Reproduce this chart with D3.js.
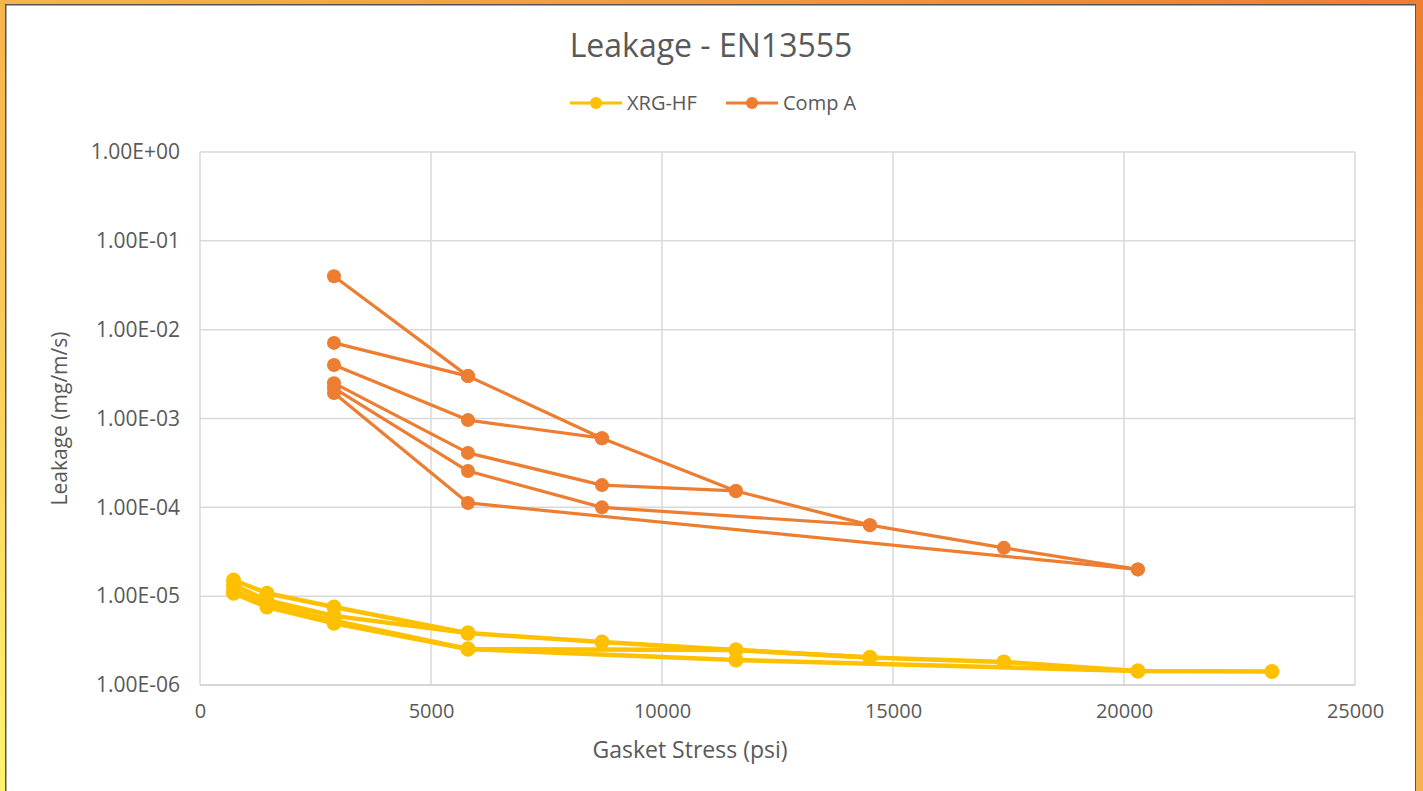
<!DOCTYPE html>
<html>
<head>
<meta charset="utf-8">
<script src="https://cdn.jsdelivr.net/npm/d3@7"></script>
<style>
  body { margin: 0; background: #fff; }
  text { font-family: "Open Sans", "Noto Sans", sans-serif; fill: #595959; }
</style>
</head>
<body>
<div id="container"></div>
<script>
// stress levels (psi) and leakage values (mg/m/s)
let xTicks = [0, 5000, 10000, 15000, 20000, 25000];
let yTicks = [1e0, 1e-1, 1e-2, 1e-3, 1e-4, 1e-5, 1e-6];
let yTickLabels = ['1.00E+00', '1.00E-01', '1.00E-02', '1.00E-03', '1.00E-04', '1.00E-05', '1.00E-06'];

// XRG-HF: loading curve + unloading loops
let xrgLoad = [[725, 1.52e-5], [1450, 1.08e-5], [2900, 7.55e-6], [5800, 3.84e-6], [8700, 3.05e-6],
    [11600, 2.48e-6], [14500, 2.04e-6], [17400, 1.82e-6], [20300, 1.44e-6], [23200, 1.42e-6]];
let xrgLoop1 = [[725, 1.33e-5], [1450, 9.0e-6], [2900, 6.0e-6], [5800, 3.84e-6]];
let xrgLoop2 = [[725, 1.08e-5], [1450, 7.55e-6], [2900, 4.96e-6], [5800, 2.54e-6], [11600, 2.48e-6], [14500, 2.04e-6]];
let xrgLoop3 = [[725, 1.15e-5], [1450, 8.2e-6], [2900, 5.3e-6], [5800, 2.54e-6], [11600, 1.91e-6], [20300, 1.44e-6]];

// Comp A: loading curve + unloading loops
let compLoad = [[2900, 4.0e-2], [5800, 3.0e-3], [8700, 6.0e-4], [11600, 1.53e-4], [14500, 6.3e-5], [17400, 3.5e-5], [20300, 2.0e-5]];
let compLoop1 = [[2900, 7.1e-3], [5800, 3.0e-3]];
let compLoop2 = [[2900, 4.0e-3], [5800, 9.6e-4], [8700, 6.0e-4]];
let compLoop3 = [[2900, 2.5e-3], [5800, 4.1e-4], [8700, 1.78e-4], [11600, 1.53e-4]];
let compLoop4 = [[2900, 2.2e-3], [5800, 2.56e-4], [8700, 1.0e-4], [14500, 6.3e-5]];
let compLoop5 = [[2900, 1.94e-3], [5800, 1.12e-4], [20300, 2.0e-5]];

let xrgSeries = [xrgLoad, xrgLoop1, xrgLoop2, xrgLoop3];
let compSeries = [compLoad, compLoop1, compLoop2, compLoop3, compLoop4, compLoop5];

let yellow = '#FFC000';
let orange = '#ED7D31';

let W = 1423, H = 791;
let svg = d3.select('#container')
    .append('svg')
    .attr('width', W)
    .attr('height', H);

// frame
let grad = svg.append('defs').append('linearGradient')
    .attr('id', 'frame')
    .attr('x1', 0).attr('y1', 1).attr('x2', 1).attr('y2', 0);
grad.append('stop').attr('offset', 0).attr('stop-color', '#FFF46E');
grad.append('stop').attr('offset', 0.35).attr('stop-color', '#F9C456');
grad.append('stop').attr('offset', 1).attr('stop-color', '#ED7D31');

svg.append('rect').attr('width', W).attr('height', H).attr('fill', 'url(#frame)');
svg.append('rect').attr('x', 5).attr('y', 4).attr('width', 1411).attr('height', H)
    .attr('fill', '#555');
svg.append('rect').attr('x', 6.5).attr('y', 5.5).attr('width', 1408.5).attr('height', H)
    .attr('fill', 'white');

let x = d3.scaleLinear().domain([0, 25000]).range([200, 1355]);
let y = d3.scaleLog().domain([1e-6, 1]).range([685, 152]);

// gridlines
svg.append('g')
    .selectAll('line.vg')
    .data(xTicks)
    .enter()
    .append('line')
    .attr('x1', d => x(d)).attr('x2', d => x(d))
    .attr('y1', y(1)).attr('y2', y(1e-6))
    .attr('stroke', '#D9D9D9')
    .attr('stroke-width', 1.5);

svg.append('g')
    .selectAll('line.hg')
    .data(yTicks)
    .enter()
    .append('line')
    .attr('x1', x(0)).attr('x2', x(25000))
    .attr('y1', d => y(d)).attr('y2', d => y(d))
    .attr('stroke', d => d == 1e-6 ? '#C8C8C8' : '#D9D9D9')
    .attr('stroke-width', 1.5);

// axes (labels only)
let xAxis = svg.append('g')
    .attr('transform', 'translate(0,' + y(1e-6) + ')')
    .call(d3.axisBottom(x).tickValues(xTicks).tickSize(0).tickPadding(19).tickFormat(d3.format('d')));
xAxis.select('.domain').remove();
xAxis.selectAll('text').style('font-size', '20px').attr('fill', '#595959')
    .style('font-family', '"Open Sans", sans-serif');

let yAxis = svg.append('g')
    .attr('transform', 'translate(' + x(0) + ',0)')
    .call(d3.axisLeft(y).tickValues(yTicks).tickSize(0).tickPadding(20)
        .tickFormat((d, i) => yTickLabels[i]));
yAxis.select('.domain').remove();
yAxis.selectAll('text').style('font-size', '21px').attr('fill', '#595959')
    .style('font-family', '"Open Sans", sans-serif');

// titles
svg.append('text')
    .attr('x', 711).attr('y', 57)
    .attr('text-anchor', 'middle')
    .style('font-size', '32px')
    .text('Leakage - EN13555');

svg.append('text')
    .attr('x', 690).attr('y', 758)
    .attr('text-anchor', 'middle')
    .style('font-size', '23px')
    .text('Gasket Stress (psi)');

svg.append('text')
    .attr('transform', 'translate(67,' + ((y(1) + y(1e-6)) / 2) + ') rotate(-90)')
    .attr('text-anchor', 'middle')
    .style('font-size', '21px')
    .text('Leakage (mg/m/s)');

// series
let line = d3.line().x(d => x(d[0])).y(d => y(d[1]));

function drawSeries(list, color, lw, r) {
    let g = svg.append('g');
    g.selectAll('path')
        .data(list)
        .enter()
        .append('path')
        .attr('d', line)
        .attr('fill', 'none')
        .attr('stroke', color)
        .attr('stroke-width', lw)
        .attr('stroke-linejoin', 'round');
    g.selectAll('circle')
        .data(list.flat())
        .enter()
        .append('circle')
        .attr('cx', d => x(d[0]))
        .attr('cy', d => y(d[1]))
        .attr('r', r)
        .attr('fill', color);
}

drawSeries(xrgSeries, yellow, 4.5, 7.5);
drawSeries(compSeries, orange, 3.2, 7);

// legend
let legendItems = [
    { name: 'XRG-HF', color: yellow, x: 570 },
    { name: 'Comp A', color: orange, x: 726 }
];
let legend = svg.selectAll('.legend')
    .data(legendItems)
    .enter()
    .append('g')
    .attr('class', 'legend')
    .attr('transform', d => 'translate(' + d.x + ',103)');
legend.append('line')
    .attr('x1', 0).attr('x2', 52)
    .attr('stroke', d => d.color)
    .attr('stroke-width', 3);
legend.append('circle')
    .attr('cx', 26).attr('r', 6)
    .attr('fill', d => d.color);
legend.append('text')
    .attr('x', 57).attr('y', 7)
    .style('font-size', '20px')
    .text(d => d.name);
</script>
</body>
</html>
